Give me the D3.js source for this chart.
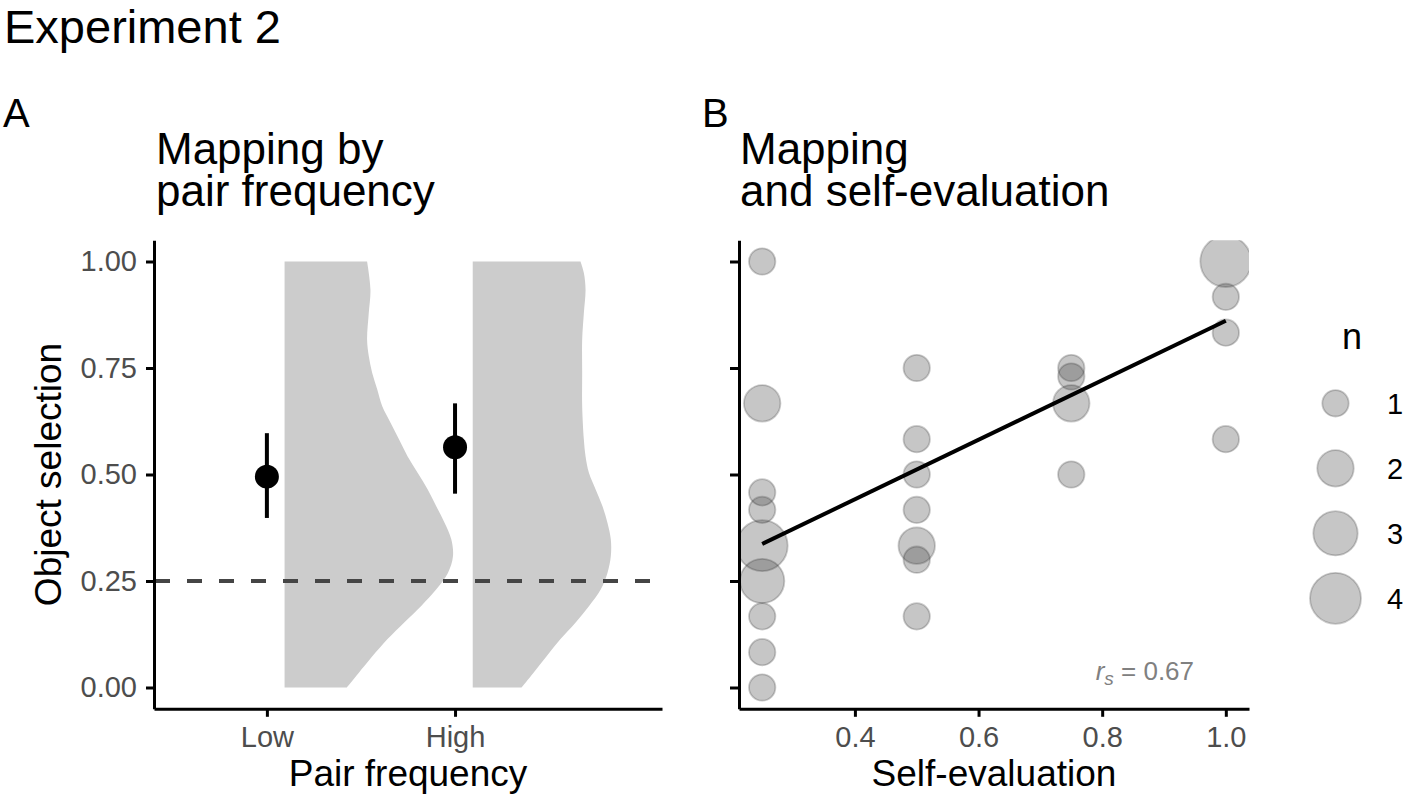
<!DOCTYPE html>
<html><head><meta charset="utf-8">
<script src="https://cdn.jsdelivr.net/npm/d3@7"></script>
<style>
body{margin:0;background:#fff}
svg{display:block;font-family:"Liberation Sans",Arial,Helvetica,sans-serif}
</style>
</head><body>
<svg id="chart" width="1405" height="802"></svg>
<script>
// ---------- Panel A data ----------
const categories = ["Low", "High"];
const meanSel = [0.495, 0.564];
const ciLow = [0.398, 0.455];
const ciHigh = [0.597, 0.667];
const chanceLevel = 0.25;
const yTicks = [0, 0.25, 0.5, 0.75, 1];

// half-violin density outlines (object selection value, relative density)
const violinLowY = [1.0, 0.934, 0.879, 0.817, 0.778, 0.739, 0.70, 0.66, 0.621, 0.582, 0.543, 0.504, 0.465, 0.426, 0.387, 0.348, 0.308, 0.269, 0.23, 0.191, 0.113, 0.034, 0.0];
const violinLowD = [0.49, 0.51, 0.50, 0.49, 0.50, 0.52, 0.55, 0.58, 0.63, 0.68, 0.73, 0.79, 0.85, 0.90, 0.95, 0.99, 1.0, 0.97, 0.90, 0.81, 0.61, 0.44, 0.37];
const violinHighY = [1.0, 0.973, 0.934, 0.879, 0.817, 0.739, 0.66, 0.582, 0.543, 0.504, 0.465, 0.426, 0.387, 0.348, 0.308, 0.269, 0.23, 0.191, 0.152, 0.113, 0.074, 0.034, 0.0];
const violinHighD = [0.64, 0.66, 0.67, 0.66, 0.65, 0.65, 0.65, 0.66, 0.67, 0.69, 0.73, 0.77, 0.80, 0.82, 0.82, 0.80, 0.76, 0.69, 0.61, 0.52, 0.44, 0.36, 0.29];

// ---------- Panel B data ----------
const selfEval = [0.25,0.25,0.25,0.25,0.25,0.25,0.25,0.25,0.25,
                  0.5,0.5,0.5,0.5,0.5,0.5,0.5,
                  0.75,0.75,0.75,0.75,
                  1.0,1.0,1.0,1.0];
const objSel   = [1.0,0.667,0.458,0.417,0.333,0.25,0.167,0.083,0.0,
                  0.75,0.583,0.5,0.417,0.333,0.3,0.167,
                  0.75,0.73,0.667,0.5,
                  1.0,0.917,0.833,0.583];
const nCount   = [1,2,1,1,4,3,1,1,1,
                  1,1,1,1,2,1,1,
                  1,1,2,1,
                  4,1,1,1];
const fitX = [0.25, 1.0];
const fitY = [0.337, 0.861];
const xTicksB = [0.4, 0.6, 0.8, 1.0];
const legendN = [1, 2, 3, 4];
const spearmanR = 0.67;

// ---------- layout ----------
const svg = d3.select("#chart");
svg.append("rect").attr("width",1405).attr("height",802).attr("fill","#fff");

const plotTop = 240.2, plotBottom = 708.8;
const y = d3.scaleLinear().domain([-0.05, 1.05]).range([plotBottom, plotTop]);

const axA = {left:154, right:662};
const axB = {left:739, right:1249};
const xA = d3.scaleLinear().domain([0.4, 3.1]).range([axA.left, axA.right]);
const xB = d3.scaleLinear().domain([0.2125, 1.0375]).range([axB.left, axB.right]);
const rScale = d3.scaleRadial().domain([1, 4]).range([13.2, 25.5]);
const vWidth = d3.scaleLinear().domain([0, 1]).range([0, 0.895]);
const vOffset = 0.094;

const tickCol = "#4d4d4d";

// titles
svg.append("text").attr("x",4).attr("y",43).attr("font-size",47).text("Experiment 2");
svg.append("text").attr("x",3).attr("y",127).attr("font-size",40).text("A");
svg.append("text").attr("x",702).attr("y",127).attr("font-size",40).text("B");
const tA = svg.append("text").attr("x",axA.left+2).attr("y",164).attr("font-size",44);
tA.append("tspan").attr("x",axA.left+2).text("Mapping by");
tA.append("tspan").attr("x",axA.left+2).attr("dy",42).text("pair frequency");
const tB = svg.append("text").attr("x",axB.left+1).attr("y",164).attr("font-size",44);
tB.append("tspan").attr("x",axB.left+1).text("Mapping");
tB.append("tspan").attr("x",axB.left+1).attr("dy",42).text("and self-evaluation");

// ---------- Panel A ----------
const gA = svg.append("g");
const violins = [
  {pos:1, ys:violinLowY, ds:violinLowD},
  {pos:2, ys:violinHighY, ds:violinHighD}
];
const area = d3.area()
  .y(d => y(d[0]))
  .x0(d => xA(d[2] + vOffset))
  .x1(d => xA(d[2] + vOffset + vWidth(d[1])))
  .curve(d3.curveCatmullRom);
violins.forEach(v => {
  const pts = v.ys.map((yy,i) => [yy, v.ds[i], v.pos]);
  gA.append("path").attr("d", area(pts)).attr("fill","#cccccc");
});

// chance line
gA.append("line")
  .attr("x1", axA.left).attr("x2", axA.right)
  .attr("y1", y(chanceLevel)).attr("y2", y(chanceLevel))
  .attr("stroke","#454545").attr("stroke-width",4)
  .attr("stroke-dasharray","15,17").attr("stroke-dashoffset",-1);

// error bars + means
categories.forEach((c,i) => {
  gA.append("line").attr("x1",xA(i+1)).attr("x2",xA(i+1))
    .attr("y1",y(ciLow[i])).attr("y2",y(ciHigh[i]))
    .attr("stroke","#000").attr("stroke-width",4);
  gA.append("circle").attr("cx",xA(i+1)).attr("cy",y(meanSel[i])).attr("r",12).attr("fill","#000");
});

// axes A
const axisLeftA = d3.axisLeft(y).tickValues(yTicks).tickFormat(d3.format(".2f")).tickSize(8).tickSizeOuter(0).tickPadding(9);
const gyA = svg.append("g").attr("transform",`translate(${axA.left},0)`).call(axisLeftA);
const axisBotA = d3.axisBottom(xA).tickValues([1,2]).tickFormat((d,i)=>categories[i]).tickSize(8).tickSizeOuter(0).tickPadding(10);
const gxA = svg.append("g").attr("transform",`translate(0,${plotBottom})`).call(axisBotA);

// ---------- Panel B ----------
svg.append("clipPath").attr("id","clipB").append("rect")
  .attr("x",axB.left).attr("y",plotTop).attr("width",axB.right-axB.left).attr("height",plotBottom-plotTop);
const gB = svg.append("g").attr("clip-path","url(#clipB)");
gB.selectAll("circle").data(selfEval.map((s,i)=>({s, o:objSel[i], n:nCount[i]})))
  .join("circle")
  .attr("cx", d => xB(d.s)).attr("cy", d => y(d.o)).attr("r", d => rScale(d.n))
  .attr("fill","#333").attr("fill-opacity",0.28)
  .attr("stroke","#333").attr("stroke-opacity",0.25).attr("stroke-width",1.8);
svg.append("line")
  .attr("x1",xB(fitX[0])).attr("x2",xB(fitX[1]))
  .attr("y1",y(fitY[0])).attr("y2",y(fitY[1]))
  .attr("stroke","#000").attr("stroke-width",4);

const rsText = svg.append("text").attr("x",xB(0.869)).attr("y",y(0.018))
  .attr("text-anchor","middle").attr("font-size",26).attr("fill","#808080");
rsText.append("tspan").attr("font-style","italic").text("r");
rsText.append("tspan").attr("font-style","italic").attr("font-size",19).attr("dy",5).text("s");
rsText.append("tspan").attr("dy",-5).text(" = " + spearmanR.toFixed(2));

const axisLeftB = d3.axisLeft(y).tickValues(yTicks).tickFormat("").tickSize(9).tickSizeOuter(0);
const gyB = svg.append("g").attr("transform",`translate(${axB.left},0)`).call(axisLeftB);
const axisBotB = d3.axisBottom(xB).tickValues(xTicksB).tickFormat(d3.format(".1f")).tickSize(8).tickSizeOuter(0).tickPadding(10);
const gxB = svg.append("g").attr("transform",`translate(0,${plotBottom})`).call(axisBotB);

// axis styling
[gyA, gxA, gyB, gxB].forEach(g => {
  g.select(".domain").attr("stroke","#000").attr("stroke-width",3);
  g.selectAll(".tick line").attr("stroke","#000").attr("stroke-width",3);
  g.selectAll(".tick text").attr("fill",tickCol).attr("font-size",29)
    .attr("font-family","'Liberation Sans',Arial,Helvetica,sans-serif");
});

// axis titles
svg.append("text").attr("x",(axA.left+axA.right)/2).attr("y",786).attr("text-anchor","middle")
  .attr("font-size",37).text("Pair frequency");
svg.append("text").attr("x",(axB.left+axB.right)/2).attr("y",786).attr("text-anchor","middle")
  .attr("font-size",37).text("Self-evaluation");
svg.append("text").attr("transform",`translate(61,${(plotTop+plotBottom)/2}) rotate(-90)`)
  .attr("text-anchor","middle").attr("font-size",37).text("Object selection");

// ---------- legend ----------
const lg = svg.append("g");
lg.append("text").attr("x",1342).attr("y",349).attr("font-size",36).text("n");
const legY = d3.scalePoint().domain(legendN).range([403.3, 598.3]);
legendN.forEach(n => {
  lg.append("circle").attr("cx",1335.5).attr("cy",legY(n)).attr("r",rScale(n))
    .attr("fill","#333").attr("fill-opacity",0.28)
    .attr("stroke","#333").attr("stroke-opacity",0.25).attr("stroke-width",1.8);
  lg.append("text").attr("x",1387).attr("y",legY(n)+10.5).attr("font-size",29).text(n);
});
</script>
</body></html>
